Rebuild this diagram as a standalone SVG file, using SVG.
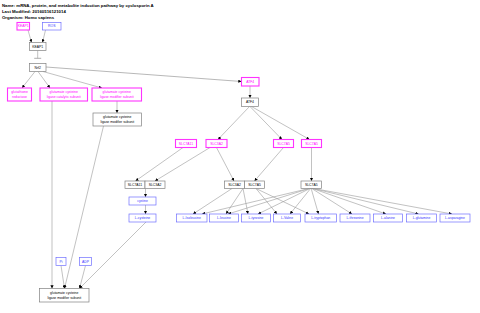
<svg xmlns="http://www.w3.org/2000/svg" width="480" height="313" viewBox="0 0 480 313">
<defs>
<marker id="arr" viewBox="0 0 10 10" refX="10" refY="5" markerWidth="3.2" markerHeight="3.2" orient="auto" markerUnits="userSpaceOnUse"><path d="M0,0 L10,5 L0,10 z" fill="#000"/></marker>
<style>
.t{font-family:"Liberation Sans",Arial,sans-serif;font-weight:bold;font-size:4.3px;fill:#000}
rect{fill:#fff}
.m{stroke:#ff33ff;stroke-width:1.1}
.b{stroke:#6f6fff;stroke-width:0.7}
.g{stroke:#808080;stroke-width:0.7}
text.n{font-family:"Liberation Sans",Arial,sans-serif;font-size:3.4px;text-anchor:middle;dominant-baseline:central}
.mt{fill:#ff00ff}
.bt{fill:#3333ff}
.gt{fill:#000}
#connectors line,#connectors path{stroke:#999;stroke-width:0.6;fill:none}
#connectors .a{marker-end:url(#arr)}
</style>
</defs>
<rect x="0" y="0" width="480" height="313" fill="#fff" style="fill:#fff"/>
<text class="t" x="2" y="7">Name: mRNA, protein, and metabolite induction pathway by cyclosporin A</text>
<text class="t" x="2" y="13">Last Modified: 20160516121014</text>
<text class="t" x="2" y="19">Organism: Homo sapiens</text>

<g id="connectors">
<line class="a" x1="28" y1="30" x2="31.5" y2="42.5"/>
<line class="a" x1="45.5" y1="30" x2="42.5" y2="42.5"/>
<line x1="37.7" y1="50.5" x2="37.7" y2="58.3"/>
<line x1="34.2" y1="58.3" x2="41.2" y2="58.3" style="stroke-width:0.8"/>
<line class="a" x1="35" y1="71.5" x2="22" y2="88"/>
<line class="a" x1="38" y1="71.5" x2="50" y2="88"/>
<line class="a" x1="43" y1="71.5" x2="102" y2="88"/>
<line class="a" x1="46" y1="67" x2="241.5" y2="81.5" style="stroke:#888"/>
<line class="a" x1="117" y1="101" x2="117" y2="113"/>
<line class="a" x1="52" y1="101" x2="52" y2="288.5"/>
<line class="a" x1="103.5" y1="126" x2="64.5" y2="288.5"/>
<line class="a" x1="61" y1="265.5" x2="64.5" y2="288.5"/>
<line class="a" x1="85.5" y1="265.5" x2="79.5" y2="288.5"/>
<line class="a" x1="146" y1="222" x2="79.5" y2="288.5"/>
<line class="a" x1="250" y1="86" x2="250" y2="98"/>
<line class="a" x1="249.5" y1="106.5" x2="218" y2="139.5"/>
<line class="a" x1="250" y1="106.5" x2="282" y2="139.5"/>
<line class="a" x1="251.5" y1="106.5" x2="309.5" y2="139.5"/>
<line class="a" x1="183" y1="147.5" x2="135.5" y2="181"/>
<line class="a" x1="210" y1="147.5" x2="155" y2="181"/>
<line class="a" x1="216.5" y1="147.5" x2="234" y2="181"/>
<line class="a" x1="283.5" y1="147.5" x2="254.5" y2="181"/>
<line class="a" x1="311.5" y1="147.5" x2="311.5" y2="181"/>
<line class="a" x1="145.5" y1="188.5" x2="145.5" y2="197"/>
<line class="a" x1="145.5" y1="205" x2="145.5" y2="214"/>
<line class="a" x1="232" y1="188.5" x2="193" y2="214"/>
<line class="a" x1="243" y1="188.5" x2="226" y2="214"/>
<line class="a" x1="243" y1="188.5" x2="248" y2="214"/>
<line class="a" x1="256" y1="188.5" x2="277" y2="214"/>
<line class="a" x1="256" y1="188.5" x2="309" y2="214"/>
<line class="a" x1="311" y1="188" x2="202" y2="214"/>
<line class="a" x1="311" y1="188" x2="228" y2="214"/>
<line class="a" x1="311" y1="188" x2="258" y2="214"/>
<line class="a" x1="311" y1="188" x2="290" y2="214"/>
<line class="a" x1="311" y1="188" x2="318.5" y2="214"/>
<line class="a" x1="311" y1="188" x2="352" y2="214"/>
<line class="a" x1="311" y1="188" x2="386" y2="214"/>
<line class="a" x1="311" y1="188" x2="418.5" y2="214"/>
<line class="a" x1="311" y1="188" x2="452" y2="214"/>
</g>

<g id="n-keap1-gene"><rect class="m" x="17" y="22.5" width="12.5" height="7.5"/><text class="n mt" x="23.25" y="26.25">KEAP1</text></g>
<g id="n-ros"><rect class="b" x="42.5" y="22.5" width="18.5" height="7.5"/><text class="n bt" x="51.75" y="26.25">ROS</text></g>
<g id="n-keap1"><rect class="g" x="29.5" y="42.5" width="16.5" height="8"/><text class="n gt" x="37.75" y="46.5">KEAP1</text></g>
<g id="n-nrf2"><rect class="g" x="29.5" y="63.5" width="16.5" height="8"/><text class="n gt" x="37.75" y="67.5">Nrf2</text></g>
<g id="n-gsr"><rect class="m" x="7.5" y="88" width="24" height="13"/><text class="n mt" x="19.5" y="92.3">glutathione</text><text class="n mt" x="19.5" y="96.8">reductase</text></g>
<g id="n-gclc"><rect class="m" x="40" y="88" width="47.5" height="13"/><text class="n mt" x="63.75" y="92.3">glutamate cysteine</text><text class="n mt" x="63.75" y="96.8">ligase catalytic subunit</text></g>
<g id="n-gclm-gene"><rect class="m" x="92" y="88" width="49.5" height="13"/><text class="n mt" x="116.75" y="92.3">glutamate cysteine</text><text class="n mt" x="116.75" y="96.8">ligase modifier subunit</text></g>
<g id="n-gclm"><rect class="g" x="93" y="113" width="48.5" height="13"/><text class="n gt" x="117.25" y="117.3">glutamate cysteine</text><text class="n gt" x="117.25" y="121.8">ligase modifier subunit</text></g>
<g id="n-atf4-gene"><rect class="m" x="241.5" y="77.5" width="17.5" height="8.5"/><text class="n mt" x="250.25" y="81.75">ATF4</text></g>
<g id="n-atf4"><rect class="g" x="241.5" y="98" width="17" height="8.5"/><text class="n gt" x="250" y="102.25">ATF4</text></g>
<g id="n-slc7a11-gene"><rect class="m" x="175.5" y="139.5" width="21" height="8"/><text class="n mt" x="186" y="143.5">SLC7A11</text></g>
<g id="n-slc3a2-gene"><rect class="m" x="206" y="139.5" width="21" height="8"/><text class="n mt" x="216.5" y="143.5">SLC3A2</text></g>
<g id="n-slc7a5-gene1"><rect class="m" x="273.5" y="139.5" width="20" height="8"/><text class="n mt" x="283.5" y="143.5">SLC7A5</text></g>
<g id="n-slc7a5-gene2"><rect class="m" x="301.5" y="139.5" width="20" height="8"/><text class="n mt" x="311.5" y="143.5">SLC7A5</text></g>
<g id="n-complex1"><rect class="g" x="125" y="181" width="20" height="7.5"/><text class="n gt" x="135" y="184.75">SLC7A11</text><rect class="g" x="145" y="181" width="20" height="7.5"/><text class="n gt" x="155" y="184.75">SLC3A2</text></g>
<g id="n-complex2"><rect class="g" x="224.5" y="181" width="20" height="7.5"/><text class="n gt" x="234.5" y="184.75">SLC3A2</text><rect class="g" x="244.5" y="181" width="20" height="7.5"/><text class="n gt" x="254.5" y="184.75">SLC7A5</text></g>
<g id="n-slc7a5"><rect class="g" x="301" y="181" width="20.5" height="7.5"/><text class="n gt" x="311.25" y="184.75">SLC7A5</text></g>
<g id="n-cystine"><rect class="b" x="129" y="197" width="27" height="8"/><text class="n bt" x="142.5" y="201">cystine</text></g>
<g id="n-lcys"><rect class="b" x="129" y="214" width="27" height="8"/><text class="n bt" x="142.5" y="218">L-cysteine</text></g>
<g id="n-ile"><rect class="b" x="176.5" y="214" width="30.5" height="8"/><text class="n bt" x="191.75" y="218">L-Isoleucine</text></g>
<g id="n-leu"><rect class="b" x="209.5" y="214" width="29" height="8"/><text class="n bt" x="224" y="218">L-leucine</text></g>
<g id="n-tyr"><rect class="b" x="241.5" y="214" width="29" height="8"/><text class="n bt" x="256" y="218">L-tyrosine</text></g>
<g id="n-val"><rect class="b" x="273.5" y="214" width="27" height="8"/><text class="n bt" x="287" y="218">L-Valine</text></g>
<g id="n-trp"><rect class="b" x="305" y="214" width="31.5" height="8"/><text class="n bt" x="320.75" y="218">L-tryptophan</text></g>
<g id="n-thr"><rect class="b" x="340" y="214" width="30" height="8"/><text class="n bt" x="355" y="218">L-threonine</text></g>
<g id="n-ala"><rect class="b" x="373.5" y="214" width="29" height="8"/><text class="n bt" x="388" y="218">L-alanine</text></g>
<g id="n-gln"><rect class="b" x="406.5" y="214" width="30" height="8"/><text class="n bt" x="421.5" y="218">L-glutamine</text></g>
<g id="n-asn"><rect class="b" x="440" y="214" width="30" height="8"/><text class="n bt" x="455" y="218">L-asparagine</text></g>
<g id="n-pi"><rect class="b" x="56" y="257.5" width="10" height="8"/><text class="n bt" x="61" y="261.5">Pi</text></g>
<g id="n-adp"><rect class="b" x="79.5" y="257.5" width="12" height="8"/><text class="n bt" x="85.5" y="261.5">ADP</text></g>
<g id="n-gclm-out"><rect class="g" x="39.5" y="288.5" width="49.5" height="13.5"/><text class="n gt" x="64.25" y="293">glutamate cysteine</text><text class="n gt" x="64.25" y="297.5">ligase modifier subunit</text></g>
</svg>
